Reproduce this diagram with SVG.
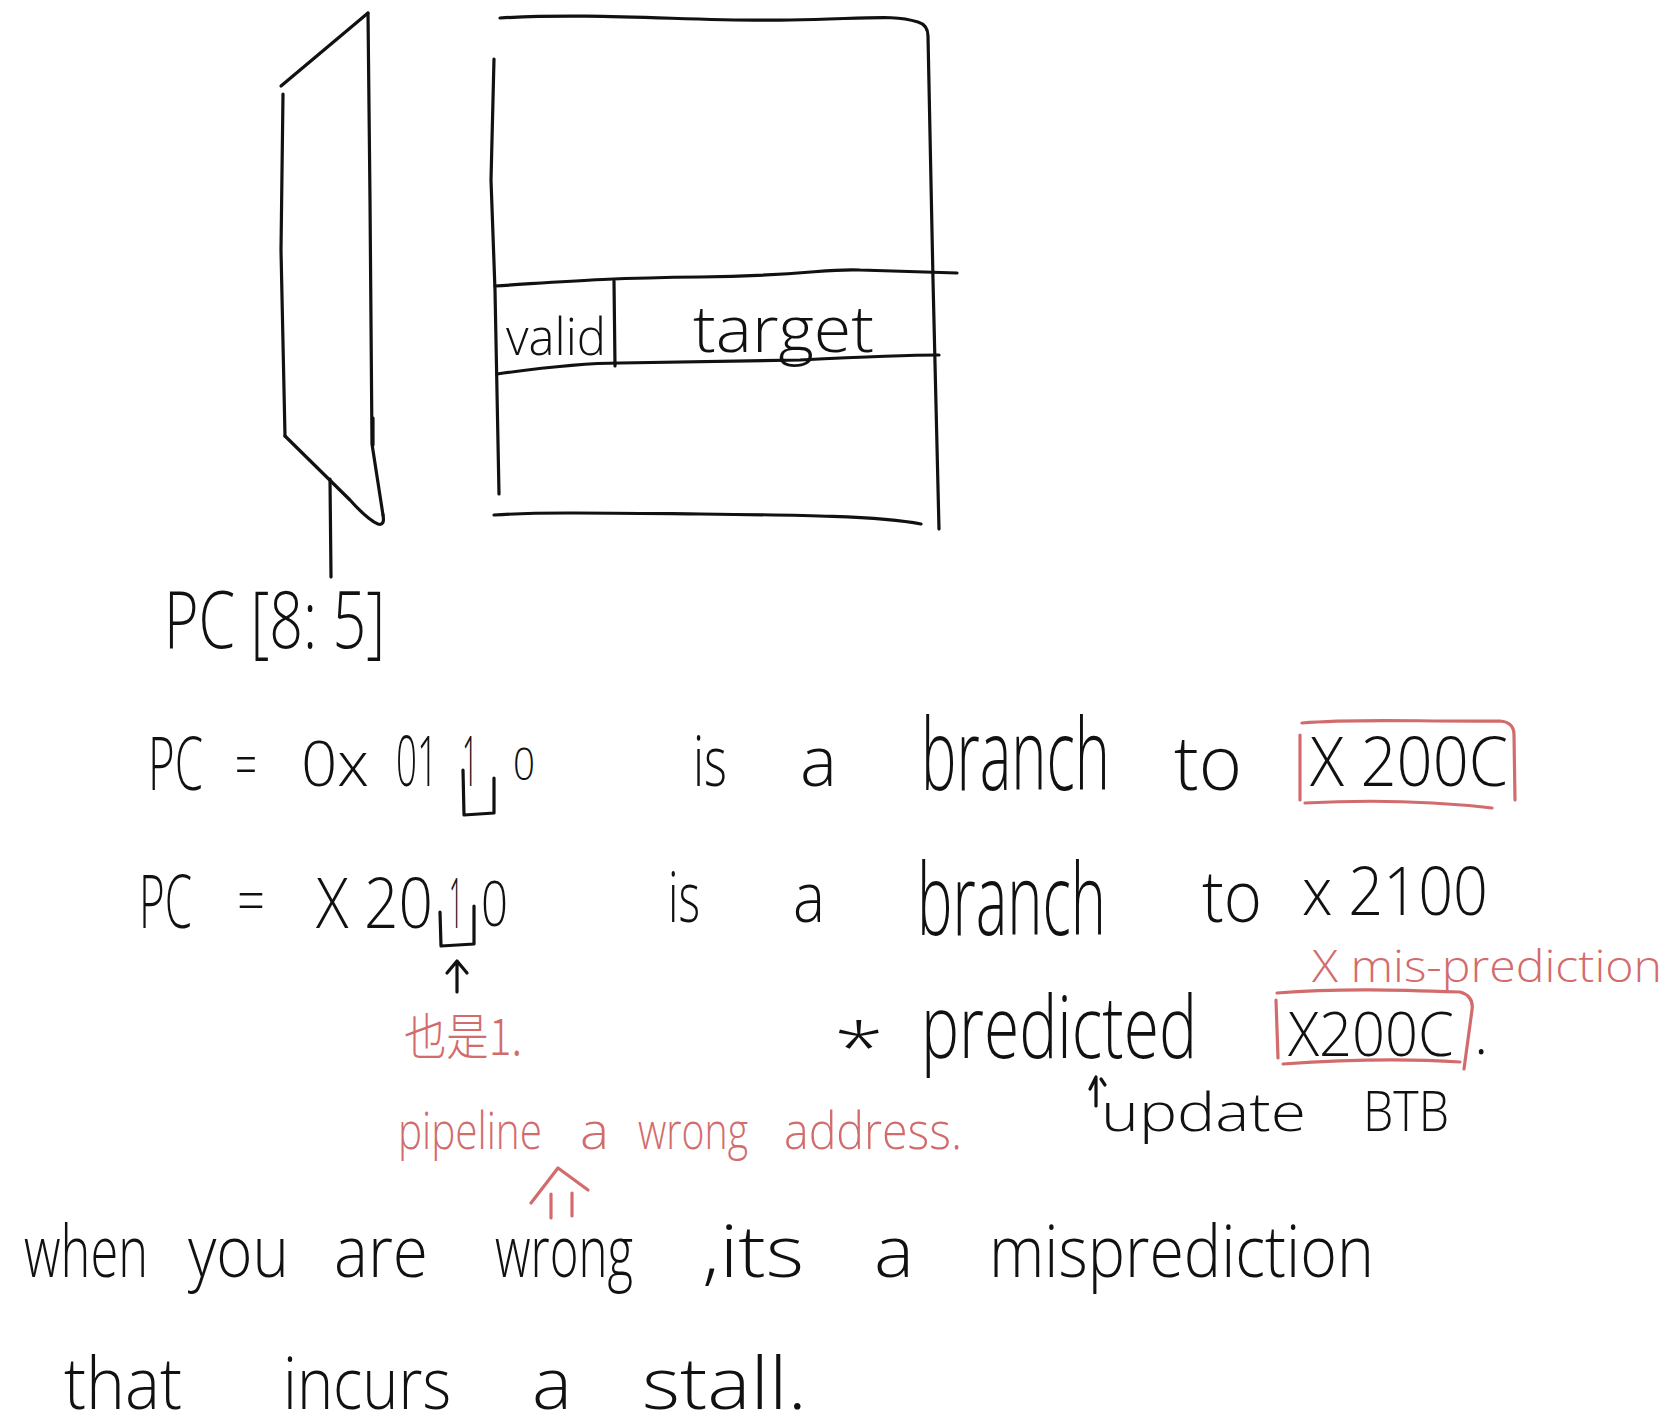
<svg xmlns="http://www.w3.org/2000/svg" width="1676" height="1428" viewBox="0 0 1676 1428">
<style>
.ink{fill:none;stroke:#111;stroke-width:3.2;stroke-linecap:round;stroke-linejoin:round}
.red{fill:none;stroke:#d26c6c;stroke-width:3.2;stroke-linecap:round;stroke-linejoin:round}
text{font-family:"Open Sans","Liberation Sans",sans-serif;font-weight:300;fill:#111}
.r{fill:#d26c6c}
.cjk{font-family:"Noto Sans CJK SC","Noto Sans",sans-serif;font-weight:300}
</style>
<rect width="1676" height="1428" fill="#fff"/>

<g id="decoder">
<path class="ink" d="M281,86 L368,13"/>
<path class="ink" d="M283,94 L281,250 L285,436"/>
<path class="ink" d="M285,436 L350,500 Q368,520 378,524 Q385,526 383,515"/>
<path class="ink" d="M368,13 L370,200 L372,444 L383,515"/>
<path class="ink" d="M373,418 L373,445"/>
</g>

<g id="btb-table">
<path class="ink" d="M500,18 C600,12 700,22 790,20 S895,15 918,22 Q928,25 928,36 L933,280 L939,529"/>
<path class="ink" d="M494,59 L491,180 L495,290 L499,494"/>
<path class="ink" d="M495,286 C560,282 600,278 700,277 C800,276 830,268 860,270 L957,273"/>
<path class="ink" d="M497,374 C540,368 580,363 620,363 L800,360 C860,357 900,355 939,355"/>
<path class="ink" d="M614,281 L615,366"/>
<path class="ink" d="M494,515 C540,512 600,513 700,514 C800,515 880,516 921,524"/>
<text x="506" y="355" font-size="52" textLength="100" lengthAdjust="spacingAndGlyphs">valid</text>
<text x="693" y="352" font-size="64" textLength="181" lengthAdjust="spacingAndGlyphs">target</text>
</g>

<g id="pc-index-label">
<text x="164" y="648" font-size="80" textLength="221" lengthAdjust="spacingAndGlyphs">PC [8: 5]</text>
</g>

<g id="line1">
<text x="148" y="790" font-size="74" textLength="55" lengthAdjust="spacingAndGlyphs">PC</text>
<text x="235" y="786" font-size="60" textLength="22" lengthAdjust="spacingAndGlyphs">=</text>
<text x="301" y="786" font-size="62" textLength="68" lengthAdjust="spacingAndGlyphs">0x</text>
<text transform="translate(396,786) scale(1,1.35)" font-size="52" textLength="42" lengthAdjust="spacingAndGlyphs">01</text>
<text x="462" y="786" font-size="70" textLength="16" lengthAdjust="spacingAndGlyphs">1</text>
<text x="513" y="780" font-size="44" textLength="22" lengthAdjust="spacingAndGlyphs">0</text>
<path class="ink" d="M463,770 L464,815 L494,813 L494,778"/>
<text x="693" y="786" font-size="70" textLength="34" lengthAdjust="spacingAndGlyphs">is</text>
<text x="800" y="786" font-size="70" textLength="37" lengthAdjust="spacingAndGlyphs">a</text>
<text transform="translate(921,790) scale(1,1.79)" font-size="56" textLength="189" lengthAdjust="spacingAndGlyphs">branch</text>
<text x="1174" y="790" font-size="76" textLength="68" lengthAdjust="spacingAndGlyphs">to</text>
<text x="1310" y="786" font-size="68" textLength="198" lengthAdjust="spacingAndGlyphs">X 200C</text>
<path class="red" d="M1302,723 C1360,718 1420,722 1500,721 Q1514,722 1514,735 L1515,800"/>
<path class="red" d="M1300,735 L1300,800"/>
<path class="red" d="M1305,803 C1380,799 1440,802 1492,808"/>
</g>

<g id="line2">
<text x="139" y="928" font-size="74" textLength="53" lengthAdjust="spacingAndGlyphs">PC</text>
<text x="237" y="922" font-size="60" textLength="28" lengthAdjust="spacingAndGlyphs">=</text>
<text transform="translate(316,928) scale(1,1.2)" font-size="58" textLength="117" lengthAdjust="spacingAndGlyphs">X 20</text>
<text transform="translate(449,928) scale(1,1.4)" font-size="50" textLength="14" lengthAdjust="spacingAndGlyphs">1</text>
<text x="481" y="926" font-size="62" textLength="27" lengthAdjust="spacingAndGlyphs">0</text>
<path class="ink" d="M440,912 L441,946 L474,944 L474,906"/>
<text x="668" y="922" font-size="70" textLength="32" lengthAdjust="spacingAndGlyphs">is</text>
<text x="793" y="922" font-size="70" textLength="32" lengthAdjust="spacingAndGlyphs">a</text>
<text transform="translate(917,935) scale(1,1.79)" font-size="56" textLength="189" lengthAdjust="spacingAndGlyphs">branch</text>
<text x="1202" y="922" font-size="72" textLength="60" lengthAdjust="spacingAndGlyphs">to</text>
<text x="1302" y="915" font-size="66" textLength="186" lengthAdjust="spacingAndGlyphs">x 2100</text>
</g>

<g id="note-also-1">
<text class="r cjk" x="404" y="1055" font-size="50" textLength="118" lengthAdjust="spacingAndGlyphs">也是1.</text>
</g>

<g id="mis-prediction-note">
<text class="r" x="1312" y="982" font-size="44" textLength="350" lengthAdjust="spacingAndGlyphs">X mis-prediction</text>
</g>

<g id="predicted-line">
<text x="834" y="1072" font-size="68" textLength="50" lengthAdjust="spacingAndGlyphs">*</text>
<text transform="translate(921,1058) scale(1,1.23)" font-size="70" textLength="276" lengthAdjust="spacingAndGlyphs">predicted</text>
<text x="1288" y="1056" font-size="60" textLength="166" lengthAdjust="spacingAndGlyphs">X200C</text>
<text x="1474" y="1054" font-size="60">.</text>
<path class="red" d="M1277,993 C1340,988 1400,990 1460,992 Q1474,996 1472,1010 L1464,1069"/>
<path class="red" d="M1276,1000 L1278,1058"/>
<path class="red" d="M1283,1064 C1340,1060 1400,1058 1460,1062"/>
</g>

<g id="update-btb">
<text x="1101" y="1131" font-size="54" textLength="205" lengthAdjust="spacingAndGlyphs">update</text>
<text x="1363" y="1131" font-size="56" textLength="86" lengthAdjust="spacingAndGlyphs">BTB</text>
</g>

<g id="pipeline-note">
<text class="r" x="398" y="1149" font-size="52" textLength="144" lengthAdjust="spacingAndGlyphs">pipeline</text>
<text class="r" x="580" y="1149" font-size="52" textLength="29" lengthAdjust="spacingAndGlyphs">a</text>
<text class="r" x="638" y="1149" font-size="52" textLength="110" lengthAdjust="spacingAndGlyphs">wrong</text>
<text class="r" x="784" y="1149" font-size="52" textLength="178" lengthAdjust="spacingAndGlyphs">address.</text>
</g>

<g id="sentence-line1">
<text transform="translate(24,1277) scale(1,1.2)" font-size="60" textLength="124" lengthAdjust="spacingAndGlyphs">when</text>
<text x="188" y="1277" font-size="72" textLength="101" lengthAdjust="spacingAndGlyphs">you</text>
<text x="334" y="1277" font-size="72" textLength="94" lengthAdjust="spacingAndGlyphs">are</text>
<text x="495" y="1277" font-size="72" textLength="138" lengthAdjust="spacingAndGlyphs">wrong</text>
<text x="702" y="1277" font-size="72" textLength="102" lengthAdjust="spacingAndGlyphs">,its</text>
<text x="874" y="1277" font-size="72" textLength="40" lengthAdjust="spacingAndGlyphs">a</text>
<text x="989" y="1277" font-size="72" textLength="385" lengthAdjust="spacingAndGlyphs">misprediction</text>
</g>

<g id="sentence-line2">
<text x="64" y="1409" font-size="72" textLength="118" lengthAdjust="spacingAndGlyphs">that</text>
<text x="283" y="1409" font-size="72" textLength="168" lengthAdjust="spacingAndGlyphs">incurs</text>
<text x="532" y="1409" font-size="72" textLength="40" lengthAdjust="spacingAndGlyphs">a</text>
<text x="642" y="1409" font-size="72" textLength="165" lengthAdjust="spacingAndGlyphs">stall.</text>
</g>

<g id="connectors">
<path class="ink" d="M330,479 L331,577"/>
<path class="ink" d="M457,992 L457,961 M447,973 L457,961 L467,973"/>
<path class="ink" d="M1096,1106 L1096,1078 M1090,1089 L1096,1077 M1101,1079 L1105,1085"/>
<path class="red" d="M531,1203 L558,1168 L588,1190 M551,1194 L551,1218 M572,1193 L572,1216"/>
</g>
</svg>
